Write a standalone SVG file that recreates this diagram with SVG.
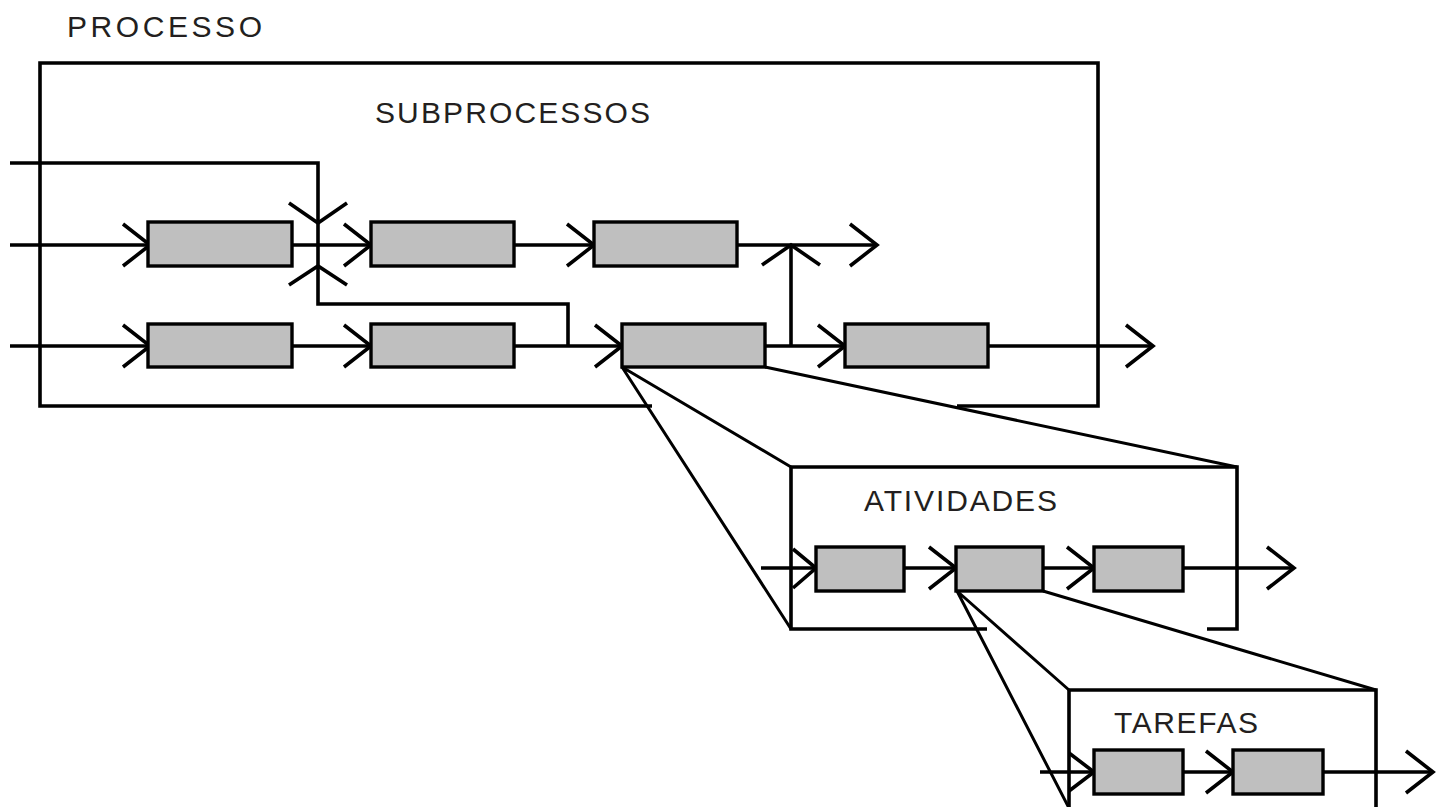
<svg xmlns="http://www.w3.org/2000/svg" width="1442" height="807" viewBox="0 0 1442 807">
  <style>
    .frame { fill: none; stroke: #000; stroke-width: 3.6; }
    .wire { fill: none; stroke: #000; stroke-width: 3.6; }
    .zoom { fill: none; stroke: #000; stroke-width: 3; }
    .box { fill: #bfbfbf; stroke: #000; stroke-width: 3.4; }
    .label { font-family: "Liberation Sans", Arial, sans-serif; font-size: 30px; fill: #231f20; }
  </style>
  <defs>
    <!-- open chevron arrowhead, tip at origin, pointing right -->
    <path id="head" d="M-27,-21 L0,0 L-27,21" fill="none" stroke="#000" stroke-width="3.6"/>
  </defs>

  <rect width="1442" height="807" fill="#fff"/>

  <!-- frames and their titles -->
  <g id="processo">
    <path class="frame" d="M652,406 H40 V63 H1098 V406 H957"/>
    <text class="label" x="67" y="37" textLength="195" lengthAdjust="spacing">PROCESSO</text>
    <text class="label" x="375" y="123" textLength="275" lengthAdjust="spacing">SUBPROCESSOS</text>
  </g>
  <g id="atividades">
    <path class="frame" d="M987,629 H791 V467 H1237 V629 H1207"/>
    <text class="label" x="864" y="511" textLength="193" lengthAdjust="spacing">ATIVIDADES</text>
  </g>
  <g id="tarefas">
    <path class="frame" d="M1069,812 V690 H1376 V812"/>
    <text class="label" x="1114" y="733" textLength="144" lengthAdjust="spacing">TAREFAS</text>
  </g>

  <!-- connectors -->
  <g id="connectors">
    <!-- expansion lines -->
    <path class="zoom" d="M622,367 L791,467 M622,367 L791,629 M765,367 L1237,467"/>
    <path class="zoom" d="M957,591 L1069,690 M957,591 L1070,810 M1043,591 L1376,690"/>

    <!-- subprocess row 1 -->
    <path class="wire" d="M10,245 H150 M292,245 H371 M514,245 H594 M737,245 H877"/>
    <use href="#head" x="150" y="245"/>
    <use href="#head" x="371" y="245"/>
    <use href="#head" x="594" y="245"/>
    <use href="#head" x="877" y="245"/>

    <!-- bypass from the top, crossing row 1 -->
    <path class="wire" d="M10,163 H318 V304 H568 V346"/>
    <path class="wire" d="M289,203 L318,223 L347,203"/>
    <path class="wire" d="M289,285 L318,266 L347,285"/>

    <!-- subprocess row 2 -->
    <path class="wire" d="M10,346 H150 M292,346 H371 M514,346 H622 M765,346 H845 M988,346 H1153"/>
    <use href="#head" x="150" y="346"/>
    <use href="#head" x="371" y="346"/>
    <use href="#head" x="622" y="346"/>
    <use href="#head" x="845" y="346"/>
    <use href="#head" x="1153" y="346"/>

    <!-- branch up from row 2 into row 1 -->
    <path class="wire" d="M791,346 V245"/>
    <path class="wire" d="M762,265 L791,245 L820,265"/>

    <!-- activities row -->
    <path class="wire" d="M761,568 H816 M904,568 H956 M1043,568 H1094 M1183,568 H1294"/>
    <path class="wire" d="M793,549 L816,568 L793,588"/>
    <use href="#head" x="956" y="568"/>
    <use href="#head" x="1094" y="568"/>
    <use href="#head" x="1294" y="568"/>

    <!-- tasks row -->
    <path class="wire" d="M1040,772 H1094 M1183,772 H1233 M1323,772 H1433"/>
    <path class="wire" d="M1069,753 L1094,772 L1069,791"/>
    <use href="#head" x="1233" y="772"/>
    <use href="#head" x="1433" y="772"/>
  </g>

  <!-- subprocess blocks -->
  <g id="sp1"><rect class="box" x="148" y="222" width="144" height="44"/></g>
  <g id="sp2"><rect class="box" x="371" y="222" width="143" height="44"/></g>
  <g id="sp3"><rect class="box" x="594" y="222" width="143" height="44"/></g>
  <g id="sp4"><rect class="box" x="148" y="324" width="144" height="43"/></g>
  <g id="sp5"><rect class="box" x="371" y="324" width="143" height="43"/></g>
  <g id="sp6"><rect class="box" x="622" y="324" width="143" height="43"/></g>
  <g id="sp7"><rect class="box" x="845" y="324" width="143" height="43"/></g>

  <!-- activity blocks -->
  <g id="at1"><rect class="box" x="816" y="547" width="88" height="44"/></g>
  <g id="at2"><rect class="box" x="956" y="547" width="87" height="44"/></g>
  <g id="at3"><rect class="box" x="1094" y="547" width="89" height="44"/></g>

  <!-- task blocks -->
  <g id="tf1"><rect class="box" x="1094" y="750" width="89" height="44"/></g>
  <g id="tf2"><rect class="box" x="1233" y="750" width="90" height="44"/></g>
</svg>
